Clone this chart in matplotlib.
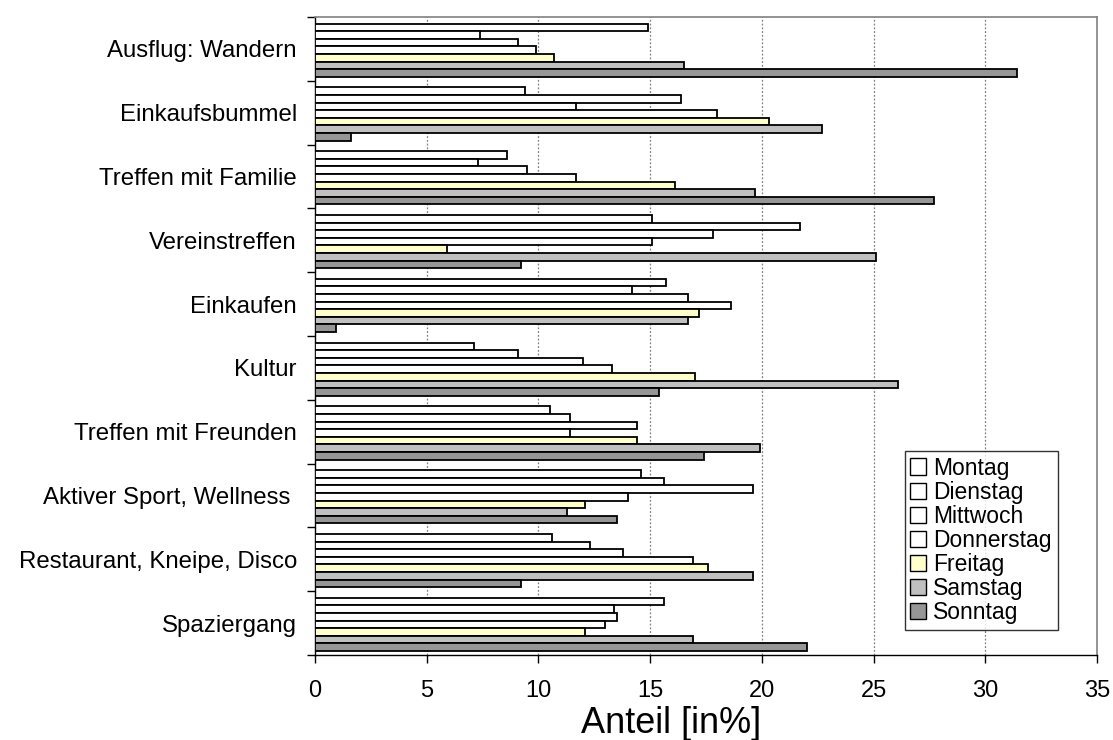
import matplotlib
matplotlib.use("Agg")
import matplotlib.pyplot as plt
from matplotlib.patches import Patch
import numpy as np

plt.rcParams['font.family'] = ['Liberation Sans', 'DejaVu Sans']

categories = ["Ausflug: Wandern", "Einkaufsbummel", "Treffen mit Familie", "Vereinstreffen",
              "Einkaufen", "Kultur", "Treffen mit Freunden", "Aktiver Sport, Wellness ",
              "Restaurant, Kneipe, Disco", "Spaziergang"]
days = ["Montag", "Dienstag", "Mittwoch", "Donnerstag", "Freitag", "Samstag", "Sonntag"]

montag     = [14.9, 9.4, 8.6, 15.1, 15.7, 7.1, 10.5, 14.6, 10.6, 15.6]
dienstag   = [7.4, 16.4, 7.3, 21.7, 14.2, 9.1, 11.4, 15.6, 12.3, 13.4]
mittwoch   = [9.1, 11.7, 9.5, 17.8, 16.7, 12.0, 14.4, 19.6, 13.8, 13.5]
donnerstag = [9.9, 18.0, 11.7, 15.1, 18.6, 13.3, 11.4, 14.0, 16.9, 13.0]
freitag    = [10.7, 20.3, 16.1, 5.9, 17.2, 17.0, 14.4, 12.1, 17.6, 12.1]
samstag    = [16.5, 22.7, 19.7, 25.1, 16.7, 26.1, 19.9, 11.3, 19.6, 16.9]
sonntag    = [31.4, 1.6, 27.7, 9.2, 0.95, 15.4, 17.4, 13.5, 9.2, 22.0]

series = [montag, dienstag, mittwoch, donnerstag, freitag, samstag, sonntag]
colors = ["#FFFFFF", "#FFFFFF", "#FFFFFF", "#FFFFFF", "#FFFFCC", "#C0C0C0", "#969696"]

fig = plt.figure(figsize=(11.13, 7.40), dpi=100)
ax = fig.add_axes([315/1113, 1-655/740, 782/1113, 638/740])

n = len(categories)
ypos = np.arange(n)[::-1]  # first category at top
h = 0.119
for j, (vals, col) in enumerate(zip(series, colors)):
    off = (3 - j) * h - 0.02
    ax.barh(ypos + off, vals, height=h, color=col, edgecolor="black", linewidth=1.3,
            label=days[j], zorder=3)

ax.set_xlim(0, 35)
ax.set_ylim(-0.5, n - 0.5)
ax.set_xticks(np.arange(0, 36, 5))
ax.tick_params(axis='x', labelsize=17, length=6, width=1, pad=12, direction='out')
ax.set_yticks(np.arange(-0.5, n, 1.0))
ax.set_yticklabels([])
ax.set_yticks(ypos, minor=True)
ax.set_yticklabels(categories, minor=True, fontsize=17.3)
ax.tick_params(axis='y', which='major', length=6, width=1, direction='out')
ax.tick_params(axis='y', which='minor', length=0, pad=13)

for x in range(5, 35, 5):
    ax.axvline(x, color="#808080", linestyle=(0, (1.5, 1.5)), linewidth=0.9, zorder=1)

for s in ['top', 'right']:
    ax.spines[s].set_color('#808080')
    ax.spines[s].set_linewidth(1.2)
for s in ['left', 'bottom']:
    ax.spines[s].set_color('black')
    ax.spines[s].set_linewidth(1.0)

ax.set_xlabel("Anteil [in%]", fontsize=26, labelpad=2)
ax.xaxis.set_label_coords(0.455, -0.08)

handles = [Patch(facecolor=c, edgecolor="black", linewidth=1.0) for c in colors]
leg = ax.legend(handles, days, loc='lower left', bbox_to_anchor=(0.754, 0.039),
                fontsize=16.5, frameon=True, fancybox=False, handlelength=0.7,
                handleheight=0.7, handletextpad=0.3, labelspacing=0.05,
                borderpad=0.25, borderaxespad=0)
leg.get_frame().set_edgecolor("black")
leg.get_frame().set_linewidth(1.0)
leg.set_zorder(5)

fig.savefig("out.png", dpi=100)
